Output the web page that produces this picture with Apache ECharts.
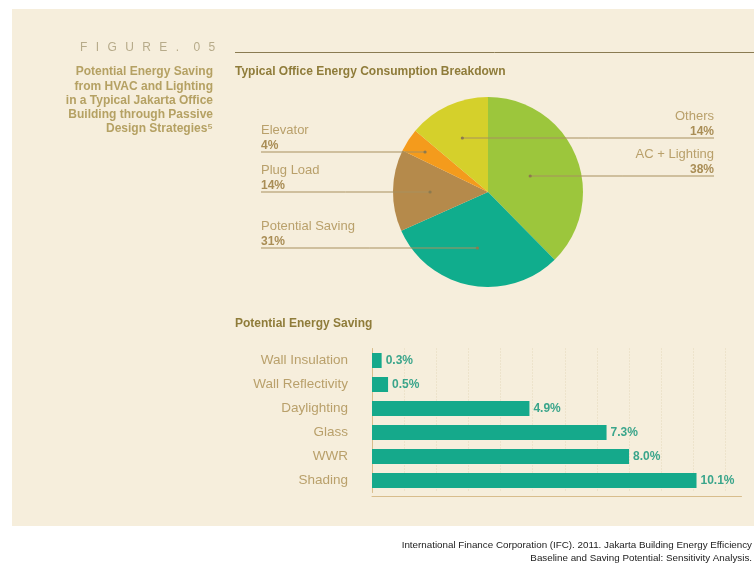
<!DOCTYPE html>
<html>
<head>
<meta charset="utf-8">
<script src="https://cdn.jsdelivr.net/npm/echarts@6/dist/echarts.min.js"></script>
<style>
  html, body { margin: 0; padding: 0; background: #ffffff; }
  #chart { width: 754px; height: 564px; }
</style>
</head>
<body>
<div id="chart"></div>
<script>
// Energy consumption breakdown (pie), clockwise from 12 o'clock
const breakdownNames = ['AC + Lighting', 'Potential Saving', 'Plug Load', 'Elevator', 'Others'];
const breakdownValues = [38, 31, 14, 4, 14];
const breakdownColors = ['#9cc63c', '#10ad8d', '#b58a4b', '#f49b1c', '#d5d02b'];

// Potential energy saving by passive design strategy (%)
const savingCategories = ['Wall Insulation', 'Wall Reflectivity', 'Daylighting', 'Glass', 'WWR', 'Shading'];
const savingValues = [0.3, 0.5, 4.9, 7.3, 8.0, 10.1];

// Label placement for the pie callouts
const pieCenter = [488, 192];
const pieRadius = 95;
const calloutSide = ['right', 'left', 'left', 'left', 'right'];
const calloutLineY = [176, 248, 192, 152, 138];
const calloutDepth = [0.48, 0.6, 0.61, 0.79, 0.64];
const leftLabelX = 261;
const rightLabelX = 714;

const tan = '#b9a06b';
const tanDark = '#a98d55';
const olive = '#8f7c3a';
const FONT = '"Liberation Sans", Arial, sans-serif';

const total = breakdownValues.reduce((a, b) => a + b, 0);
const midAngles = [];
(function () {
  let acc = 0;
  breakdownValues.forEach(v => {
    const a0 = acc / total * 360;
    acc += v;
    const a1 = acc / total * 360;
    midAngles.push((a0 + a1) / 2);
  });
})();

// inner end point of each callout leader
function anchorX(i) {
  const th = midAngles[i] * Math.PI / 180;
  return pieCenter[0] + calloutDepth[i] * pieRadius * Math.sin(th);
}

const anchorDots = breakdownValues.map((v, i) => ({
  type: 'circle', z: 100, silent: true,
  shape: { cx: anchorX(i), cy: calloutLineY[i], r: 1.6 },
  style: { fill: '#8d7a4e' }
}));

const chart = echarts.init(document.getElementById('chart'), null, { renderer: 'canvas' });

const pieData = breakdownNames.map((n, i) => ({ name: n, value: breakdownValues[i], itemStyle: { color: breakdownColors[i] } }));

const option = {
  backgroundColor: '#ffffff',
  animation: false,
  textStyle: { fontFamily: FONT },
  graphic: [
    { type: 'rect', shape: { x: 12, y: 9, width: 742, height: 517 }, style: { fill: '#f6eedc' }, z: -10, silent: true },
    { type: 'line', shape: { x1: 235, y1: 52.5, x2: 754, y2: 52.5 }, style: { stroke: '#8a7b52', lineWidth: 1 } },
    {
      type: 'text', x: 80, y: 48,
      style: {
        text: 'F\u2002\u2009I\u2002\u2009G\u2002\u2009U\u2002\u2009R\u2002\u2009E\u2002\u2009.\u2002\u2002\u20090\u2002\u20095',
        fill: '#b7ab8a', font: '12px ' + FONT, verticalAlign: 'middle'
      }
    },
    {
      type: 'text', x: 213, y: 65,
      style: {
        text: 'Potential Energy Saving\nfrom HVAC and Lighting\nin a Typical Jakarta Office\nBuilding through Passive\nDesign Strategies\u2075',
        fill: '#b5a163', font: 'bold 12px ' + FONT,
        align: 'right', verticalAlign: 'top', lineHeight: 14.2
      }
    },
    {
      type: 'text', x: 235, y: 72,
      style: { text: 'Typical Office Energy Consumption Breakdown', fill: olive, font: 'bold 12px ' + FONT, verticalAlign: 'middle' }
    },
    {
      type: 'text', x: 235, y: 324,
      style: { text: 'Potential Energy Saving', fill: olive, font: 'bold 12px ' + FONT, verticalAlign: 'middle' }
    },
    {
      type: 'text', x: 752, y: 539,
      style: {
        text: 'International Finance Corporation (IFC). 2011. Jakarta Building Energy Efficiency\nBaseline and Saving Potential: Sensitivity Analysis.',
        fill: '#222222', font: '9.8px ' + FONT, align: 'right', verticalAlign: 'top', lineHeight: 13
      }
    }
  ].concat(anchorDots),
  grid: { left: 372, top: 348.5, width: 369.5, height: 144, containLabel: false },
  xAxis: {
    type: 'value', min: 0, max: 11.5, interval: 1,
    offset: 4,
    axisLine: { show: true, lineStyle: { color: '#d8bd8c', width: 1 } },
    axisTick: { show: false },
    axisLabel: { show: false },
    splitLine: { show: true, showMinLine: false, showMaxLine: false, lineStyle: { color: '#e4d8bb', type: [1, 2], width: 1 } }
  },
  yAxis: {
    type: 'category', inverse: true, data: savingCategories,
    axisLine: { show: true, lineStyle: { color: '#d8bd8c', width: 1 } },
    axisTick: { show: false },
    axisLabel: { color: tan, fontSize: 13.5, margin: 24 },
    splitLine: { show: false }
  },
  series: [
    // sectors
    {
      type: 'pie', z: 2,
      center: pieCenter, radius: pieRadius,
      startAngle: 90, clockwise: true, silent: true,
      label: { show: false }, labelLine: { show: false },
      data: pieData
    },
    // callout labels and leaders, drawn over the sectors
    {
      type: 'pie', z: 3,
      center: pieCenter, radius: pieRadius,
      startAngle: 90, clockwise: true, silent: true,
      avoidLabelOverlap: false,
      itemStyle: { color: 'rgba(0,0,0,0)' },
      data: breakdownNames.map((n, i) => ({ name: n, value: breakdownValues[i], itemStyle: { color: 'rgba(0,0,0,0)' } })),
      label: {
        show: true, position: 'outside',
        formatter: p => '{n|' + p.name + '}\n{v|' + p.value + '%}',
        rich: {
          n: { color: tan, fontSize: 13, lineHeight: 15 },
          v: { color: tanDark, fontSize: 12, fontWeight: 'bold', lineHeight: 15 }
        }
      },
      labelLine: { show: true, lineStyle: { color: '#a8905e', width: 1 } },
      labelLayout: function (p) {
        const i = p.dataIndex;
        const ax = anchorX(i);
        const ly = calloutLineY[i];
        const right = calloutSide[i] === 'right';
        const lx = right ? rightLabelX : leftLabelX;
        return {
          x: lx,
          y: ly + 1,
          align: right ? 'right' : 'left',
          verticalAlign: 'bottom',
          labelLinePoints: [[ax, ly], [(ax + lx) / 2, ly], [lx, ly]]
        };
      }
    },
    {
      type: 'bar',
      data: savingValues,
      barWidth: 15,
      silent: true,
      itemStyle: { color: '#15a98b' },
      label: {
        show: true, position: 'right', distance: 4,
        formatter: p => p.value.toFixed(1) + '%',
        color: '#3aa58b', fontSize: 12, fontWeight: 'bold'
      }
    }
  ]
};

chart.setOption(option);
</script>
</body>
</html>
